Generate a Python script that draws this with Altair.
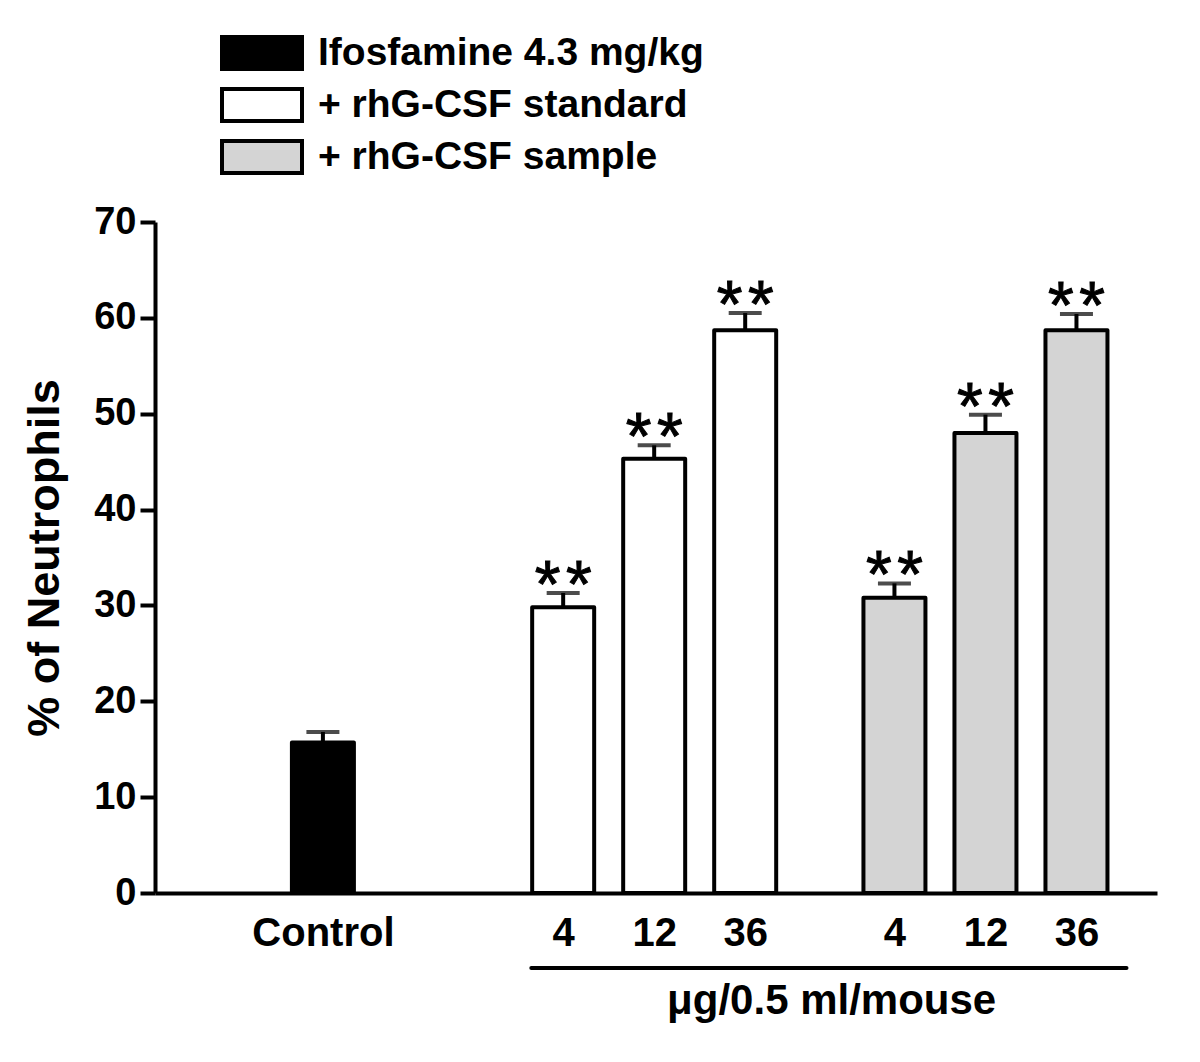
import altair as alt
import pandas as pd

# ---- data ----
labels = ["Control", "4", "12", "36", "4", "12", "36"]
groups = ["Ifosfamine 4.3 mg/kg",
          "+ rhG-CSF standard", "+ rhG-CSF standard", "+ rhG-CSF standard",
          "+ rhG-CSF sample", "+ rhG-CSF sample", "+ rhG-CSF sample"]
means = [15.7, 29.8, 45.3, 58.7, 30.8, 48.0, 58.7]
errors = [1.1, 1.5, 1.4, 1.8, 1.5, 1.9, 1.7]
marks = ["", "**", "**", "**", "**", "**", "**"]

group_order = ["Ifosfamine 4.3 mg/kg", "+ rhG-CSF standard", "+ rhG-CSF sample"]
group_colors = ["#000000", "#ffffff", "#d4d4d4"]

# layout of slots on the x axis (group start + index within group)
group_start = {"Ifosfamine 4.3 mg/kg": 1.79, "+ rhG-CSF standard": 4.43, "+ rhG-CSF sample": 8.07}
pos = []
counter = {}
for g in groups:
    i = counter.get(g, 0)
    pos.append(group_start[g] + i)
    counter[g] = i + 1

df = pd.DataFrame({"pos": pos, "label": labels, "group": groups,
                   "mean": means, "err": errors,
                   "sig": ["\u200a".join(m) for m in marks]})
df["top"] = df["mean"] + df["err"]

FONT = "Liberation Sans"
XMAX = 10.9

label_expr = " : ".join(f"abs(datum.value - {p}) < 0.01 ? '{l}'" for p, l in zip(pos, labels)) + " : ''"

xscale = alt.Scale(domain=[0, XMAX], nice=False, zero=False)
yscale = alt.Scale(domain=[0, 70], nice=False)

base = alt.Chart(df)

bars = base.mark_bar(size=62, stroke="black", strokeWidth=4, strokeJoin="round").encode(
    x=alt.X("pos:Q", scale=xscale,
            axis=alt.Axis(title=None, values=pos, labelExpr=label_expr, ticks=False,
                          grid=False, domainWidth=4, domainColor="black",
                          labelFont=FONT, labelFontSize=40, labelFontWeight="bold",
                          labelColor="black", labelPadding=20, labelFlush=False)),
    y=alt.Y("mean:Q", scale=yscale,
            axis=alt.Axis(title="% of Neutrophils", values=list(range(0, 71, 10)),
                          grid=False, domainWidth=4, domainColor="black",
                          tickWidth=4, tickSize=15, tickColor="black",
                          labelFont=FONT, labelFontSize=38, labelFontWeight="bold",
                          labelColor="black", labelPadding=4,
                          titleFont=FONT, titleFontSize=45, titleFontWeight="bold",
                          titleColor="black", titlePadding=26)),
    fill=alt.Fill("group:N", scale=alt.Scale(domain=group_order, range=group_colors),
                  legend=alt.Legend(title=None, orient="none", legendX=85, legendY=-191,
                                    symbolType="M-2,-0.8H2V0.8H-2Z", symbolSize=1600,
                                    symbolStrokeColor="black", symbolStrokeWidth=4,
                                    labelFont=FONT, labelFontSize=39, labelFontWeight="bold",
                                    labelColor="black", labelOffset=34, rowPadding=4,
                                    padding=0, labelLimit=600)),
)

err_line = base.mark_rule(strokeWidth=4, color="black").encode(
    x="pos:Q", y="mean:Q", y2="top:Q")

caps = base.mark_tick(orient="horizontal", size=33, thickness=4, color="black",
                      strokeCap="round").encode(x="pos:Q", y="top:Q")

stars = base.mark_text(font=FONT, fontSize=66, fontWeight="normal", color="black",
                       baseline="alphabetic", dy=14, stroke="black", strokeWidth=1).encode(
    x="pos:Q", y="top:Q", text="sig:N")

# bracket line under the dose labels and its caption
dose_df = pd.DataFrame({"x0": [4.08], "x1": [10.62], "xm": [7.38],
                        "caption": ["\u03bcg/0.5 ml/mouse"]})
bracket = alt.Chart(dose_df).mark_rule(strokeWidth=4, color="black", strokeCap="round").encode(
    x="x0:Q", x2="x1:Q", y=alt.value(746))
caption = alt.Chart(dose_df).mark_text(font=FONT, fontSize=42, fontWeight="bold",
                                      color="black", baseline="middle").encode(
    x="xm:Q", y=alt.value(779), text="caption:N")

chart = alt.layer(bars, err_line, caps, stars, bracket, caption).properties(
    width=1002, height=671,
    autosize=alt.AutoSizeParams(type="none"),
    padding={"left": 147, "top": 214, "right": 30, "bottom": 160},
).configure_view(stroke=None)

chart.save("out.html", embed_options={"renderer": "svg", "actions": False})
